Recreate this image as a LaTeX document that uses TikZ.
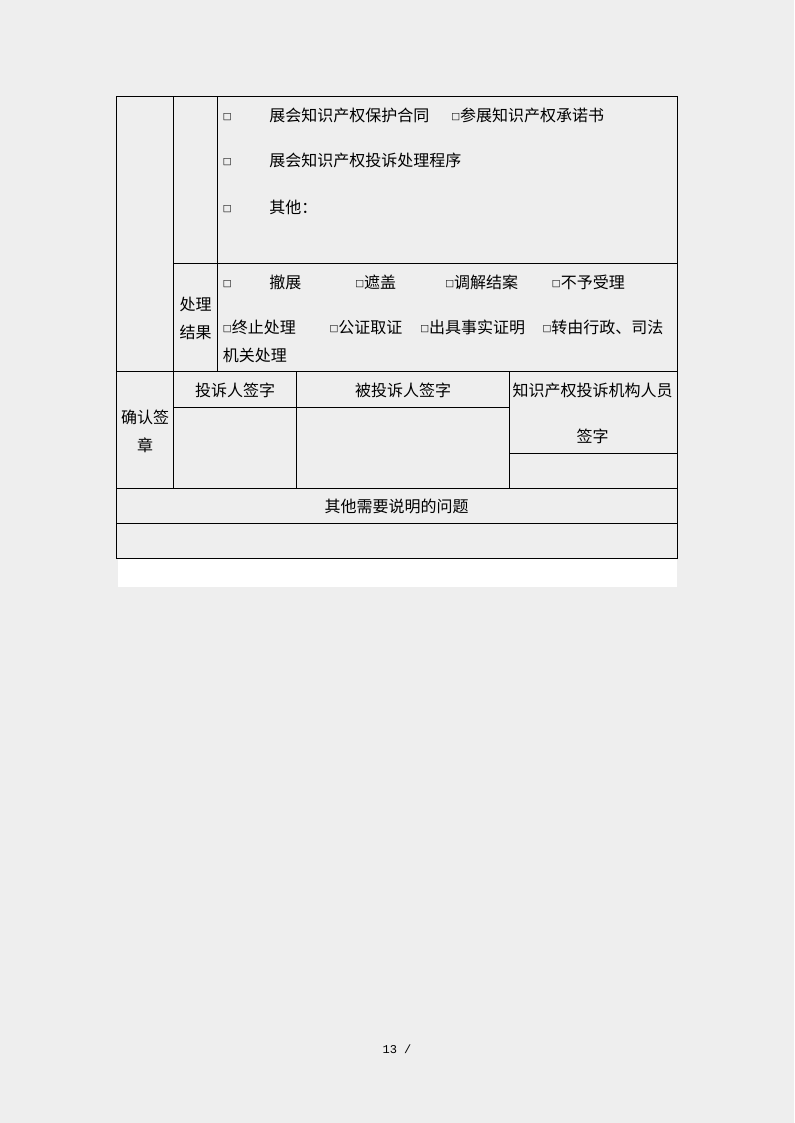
\documentclass[tikz,border=0pt]{standalone}
\usepackage{fontspec}
\setmainfont{Noto Sans CJK SC}
\newfontfamily\boxfont{DejaVu Sans}
\newfontfamily\pagefont{Liberation Mono}
\usepackage{tikz}
\definecolor{pagegray}{HTML}{EEEEEE}
\newcommand{\cbox}{\raisebox{1.5pt}{\boxfont\fontsize{7pt}{7pt}\selectfont □}}

\begin{document}
\begin{tikzpicture}[x=0.75pt, y=-0.75pt, every node/.style={inner sep=0pt, font=\fontsize{12pt}{14pt}\selectfont, text height=10.5pt, text depth=1.5pt}, grid/.style={line width=0.75pt}]
            % Page
            \fill[pagegray] (0,0) rectangle (794,1123);
            \fill[white] (118,558) rectangle (676.7,586.7);

            % Table lines
            \draw[grid] (116.5,96.5) rectangle (677,558);
            \draw[grid] (173.5,96.5) -- (173.5,488.5);
            \draw[grid] (217.5,96.5) -- (217.5,371.5);
            \draw[grid] (173.5,263.5) -- (677,263.5);
            \draw[grid] (116.5,371.5) -- (677,371.5);
            \draw[grid] (296.5,371.5) -- (296.5,488.5);
            \draw[grid] (509.5,371.5) -- (509.5,488.5);
            \draw[grid] (173.5,407.5) -- (509.5,407.5);
            \draw[grid] (509.5,453.5) -- (677,453.5);
            \draw[grid] (116.5,488.5) -- (677,488.5);
            \draw[grid] (116.5,523.5) -- (677,523.5);

            % Documents
            \node[anchor=west] (b1) at (222.7,115.7) {\cbox};
            \node[anchor=west] (d1) at (269,115.7) {展会知识产权保护合同};
            \node[anchor=west] (d2) at (451,115.7) {\cbox{}参展知识产权承诺书};
            \node[anchor=west] (b2) at (222.7,161) {\cbox};
            \node[anchor=west] (d3) at (269,161) {展会知识产权投诉处理程序};
            \node[anchor=west] (b3) at (222.7,207.7) {\cbox};
            \node[anchor=west] (d4) at (269,207.7) {其他：};

            % Results
            \node[anchor=west] (res1) at (179.3,304.3) {处理};
            \node[anchor=west] (res2) at (179.3,332.3) {结果};
            \node[anchor=west] (b4) at (222.7,282.3) {\cbox};
            \node[anchor=west] (r1) at (269,282.3) {撤展};
            \node[anchor=west] (r2) at (355,282.3) {\cbox{}遮盖};
            \node[anchor=west] (r3) at (445,282.3) {\cbox{}调解结案};
            \node[anchor=west] (r4) at (551.7,282.3) {\cbox{}不予受理};
            \node[anchor=west] (r5) at (222.7,327.7) {\cbox{}终止处理};
            \node[anchor=west] (r6) at (329.3,327.7) {\cbox{}公证取证};
            \node[anchor=west] (r7) at (420,327.7) {\cbox{}出具事实证明};
            \node[anchor=west] (r8) at (542.3,327.7) {\cbox{}转由行政、司法};
            \node[anchor=west] (r9) at (222.7,355.7) {机关处理};

            % Signatures
            \node (s1) at (145,417.7) {确认签};
            \node (s2) at (145,445) {章};
            \node (s3) at (235,390.7) {投诉人签字};
            \node (s4) at (403,390.7) {被投诉人签字};
            \node (s5) at (592.7,390.7) {知识产权投诉机构人员};
            \node (s6) at (592.7,436) {签字};

            % Notes
            \node (n1) at (396.7,506) {其他需要说明的问题};

            % Page number
            \node[font=\pagefont\fontsize{9pt}{10pt}\selectfont, text height=6pt, text depth=0pt] (pg) at (397,1049) {13 /};
        \end{tikzpicture}
\end{document}
